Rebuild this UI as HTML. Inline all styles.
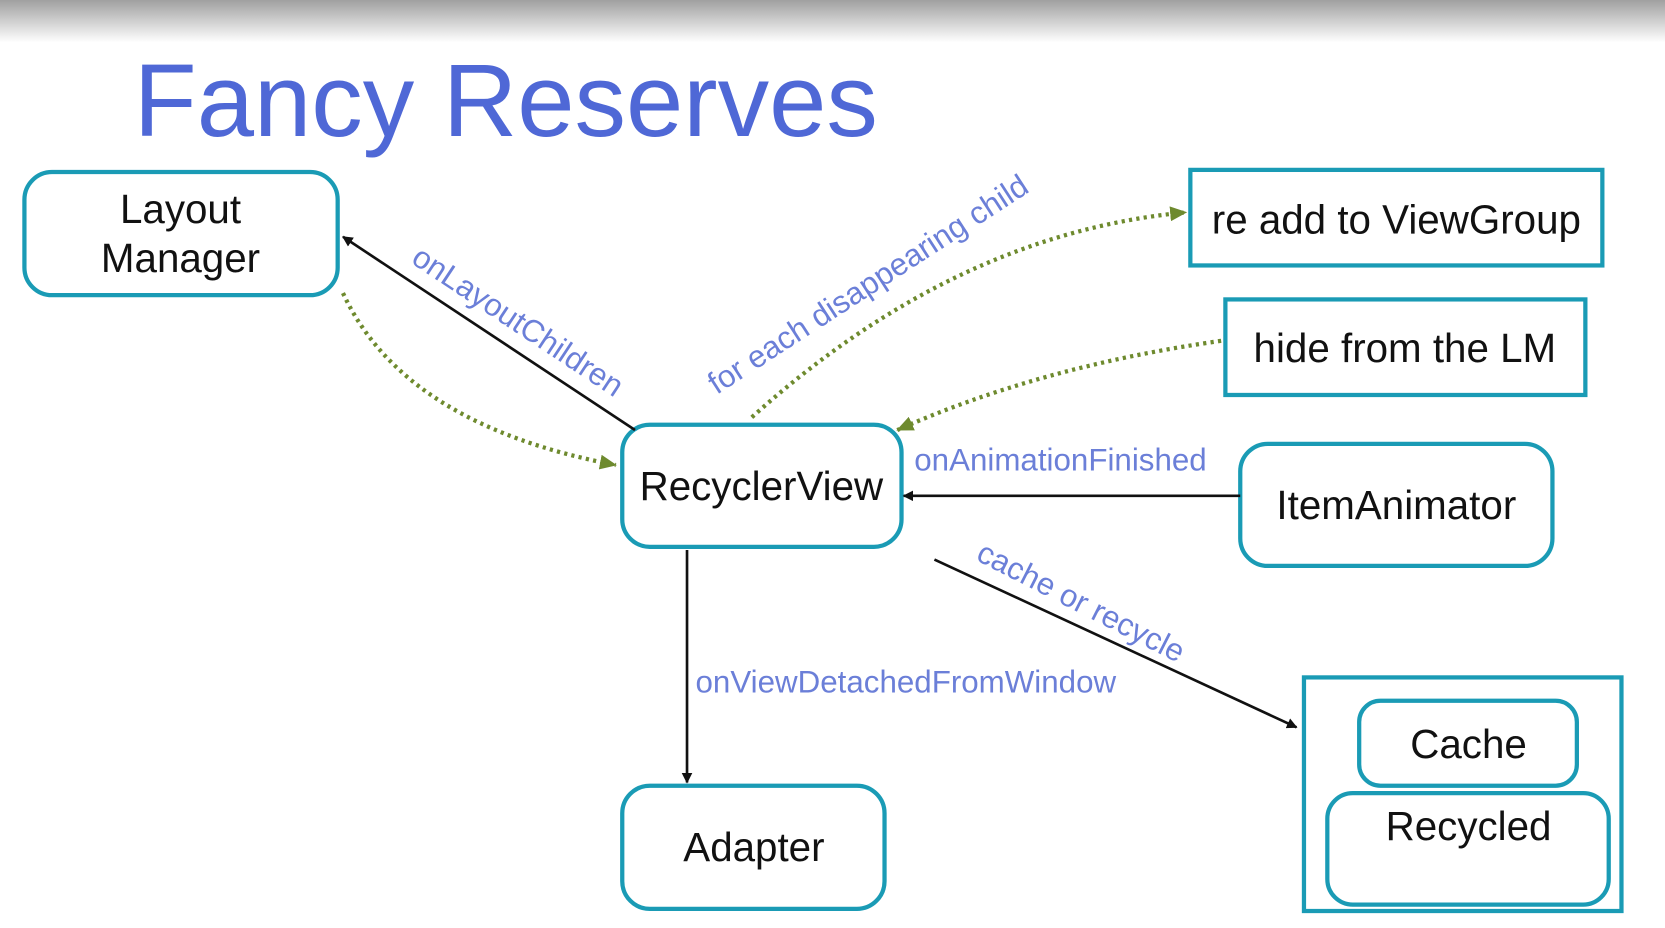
<!DOCTYPE html>
<html><head><style>
html,body{margin:0;padding:0;background:#fff;width:1665px;height:928px;overflow:hidden}
svg{display:block}
text{font-family:"Liberation Sans",sans-serif}
</style></head><body>
<svg width="1665" height="928" viewBox="0 0 1568 874" preserveAspectRatio="none">
<defs>
<linearGradient id="g" x1="0" y1="0" x2="0" y2="1">
<stop offset="0" stop-color="#a0a0a0"/><stop offset="1" stop-color="#ffffff"/>
</linearGradient>
<marker id="ab" markerWidth="10" markerHeight="10" refX="9" refY="5" orient="auto" markerUnits="userSpaceOnUse"><path d="M0,0 L10,5 L0,10 z" fill="#111"/></marker>
<marker id="ag" markerWidth="16" markerHeight="14" refX="15" refY="7" orient="auto" markerUnits="userSpaceOnUse"><path d="M0,0 L16,7 L0,14 z" fill="#6e8a2e"/></marker>
</defs>
<rect width="1568" height="874" fill="#fff"/>
<rect width="1568" height="40" fill="url(#g)"/>
<text x="126" y="128" font-size="97" fill="#4f68d6">Fancy Reserves</text>

<g fill="none" stroke="#1a9bb5" stroke-width="4">
<rect x="23" y="162" width="295" height="116" rx="26"/>
<rect x="1121" y="160" width="388" height="90"/>
<rect x="1154" y="282" width="339" height="90"/>
<rect x="586" y="400" width="263" height="115" rx="26"/>
<rect x="1168" y="418" width="294" height="115" rx="26"/>
<rect x="586" y="740" width="247" height="116" rx="26"/>
<rect x="1228" y="638" width="299" height="220"/>
<rect x="1280" y="660" width="205" height="80" rx="20"/>
<rect x="1250" y="747" width="265" height="105" rx="24"/>
</g>

<g font-size="38" fill="#111" text-anchor="middle">
<text x="170" y="210">Layout</text>
<text x="170" y="256">Manager</text>
<text x="1315" y="220">re add to ViewGroup</text>
<text x="1323" y="341">hide from the LM</text>
<text x="717" y="471">RecyclerView</text>
<text x="1315" y="489">ItemAnimator</text>
<text x="710" y="811">Adapter</text>
<text x="1383" y="714">Cache</text>
<text x="1383" y="791">Recycled</text>
</g>

<g stroke="#111" stroke-width="2.5" fill="none">
<line x1="598" y1="405" x2="323" y2="223" marker-end="url(#ab)"/>
<line x1="1168" y1="467" x2="851" y2="467" marker-end="url(#ab)"/>
<line x1="647" y1="518" x2="647" y2="737" marker-end="url(#ab)"/>
<line x1="880" y1="527" x2="1221" y2="685" marker-end="url(#ab)"/>
</g>
<g stroke="#6e8a2e" stroke-width="4" stroke-dasharray="3,4" fill="none">
<path d="M323,276 Q380,400 580,438" marker-end="url(#ag)"/>
<path d="M708,393 Q900,220 1117,200" marker-end="url(#ag)"/>
<path d="M1150,321 Q980,345 845,405" marker-end="url(#ag)"/>
</g>

<g font-size="29.5" fill="#6b7fd8">
<text transform="translate(386,247) rotate(33.5)">onLayoutChildren</text>
<text transform="translate(675,372) rotate(-33)">for each disappearing child</text>
<text x="861" y="443">onAnimationFinished</text>
<text transform="translate(918,527) rotate(27)">cache or recycle</text>
<text x="655" y="652">onViewDetachedFromWindow</text>
</g>
</svg>
</body></html>
